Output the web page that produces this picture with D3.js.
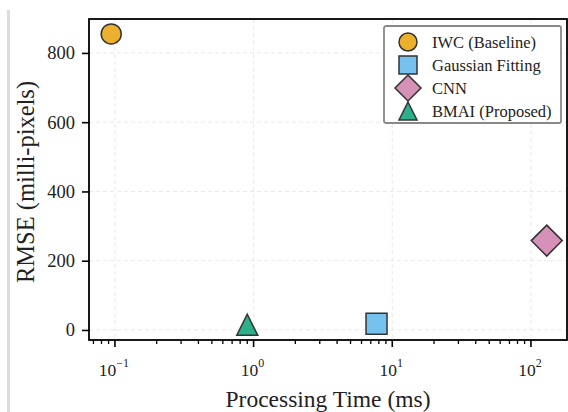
<!DOCTYPE html>
<html>
<head>
<meta charset="utf-8">
<script src="https://cdn.jsdelivr.net/npm/d3@7"></script>
<style>
  body { margin: 0; background: #fff; }
  svg { display: block; font-family: "Liberation Serif", "Times New Roman", serif; }
</style>
</head>
<body>
<svg id="chart" width="568" height="412"></svg>
<script>
// values
var methods = ["IWC (Baseline)", "Gaussian Fitting", "CNN", "BMAI (Proposed)"];
var times = [0.094, 7.7, 130, 0.9];        // ms
var rmse = [855, 18, 258, 15];             // milli-pixels
var colors = ["#E69F00", "#56B4E9", "#CC79A7", "#009E73"];
var shapes = ["circle", "square", "diamond", "triangle"];
var yTicks = [0, 200, 400, 600, 800];
var xTicks = [0.1, 1, 10, 100];
var xExp = ["\u22121", "0", "1", "2"];

var svg = d3.select("#chart");
var pl = 89, pr = 567, pt = 19, pb = 340;

var x = d3.scaleLog().domain([Math.pow(10, -1.187), Math.pow(10, 2.26)]).range([pl, pr]);
var y = d3.scaleLinear().domain([-29, 898]).range([pb, pt]);

// faint page border at left
svg.append("rect").attr("x", 7).attr("y", 10).attr("width", 3).attr("height", 402).attr("fill", "#dcdcdc");

// grid
svg.append("g").selectAll("line").data(xTicks).join("line")
    .attr("x1", d => x(d)).attr("x2", d => x(d)).attr("y1", pt).attr("y2", pb)
    .attr("stroke", "#e3e3e3").attr("stroke-width", 0.8).attr("stroke-dasharray", "4,3");
svg.append("g").selectAll("line").data(yTicks).join("line")
    .attr("x1", pl).attr("x2", pr).attr("y1", d => y(d)).attr("y2", d => y(d))
    .attr("stroke", "#e3e3e3").attr("stroke-width", 0.8).attr("stroke-dasharray", "4,3");

// y axis
var yAxis = svg.append("g").attr("transform", "translate(" + pl + ",0)")
    .call(d3.axisLeft(y).tickValues(yTicks).tickSize(7).tickPadding(7));
yAxis.select(".domain").remove();
yAxis.selectAll("line").attr("stroke", "#000").attr("stroke-width", 1.6);
yAxis.selectAll("text").attr("font-size", 18.5).attr("font-family", "Liberation Serif").attr("fill", "#222");

// x axis (major + minor ticks)
var minor = [];
for (var e = -2; e <= 2; e++) for (var m = 2; m <= 9; m++) {
  var v = m * Math.pow(10, e);
  if (v >= x.domain()[0] && v <= x.domain()[1]) minor.push(v);
}
var xg = svg.append("g").attr("transform", "translate(0," + pb + ")");
xg.selectAll(".minor").data(minor).join("line").attr("class", "minor")
    .attr("x1", d => x(d)).attr("x2", d => x(d)).attr("y1", 0).attr("y2", 4)
    .attr("stroke", "#000").attr("stroke-width", 1.3);
xg.selectAll(".major").data(xTicks).join("line").attr("class", "major")
    .attr("x1", d => x(d)).attr("x2", d => x(d)).attr("y1", 0).attr("y2", 7)
    .attr("stroke", "#000").attr("stroke-width", 1.6);
var xl = xg.selectAll(".lab").data(xTicks).join("text").attr("class", "lab")
    .attr("x", d => x(d) - 1).attr("y", 36).attr("text-anchor", "middle")
    .attr("font-size", 17.5).attr("fill", "#222");
xl.append("tspan").text("10");
xl.append("tspan").attr("dy", -9).attr("font-size", 12).text((d, i) => xExp[i]);

// spines
svg.append("rect").attr("x", pl).attr("y", pt).attr("width", pr - pl).attr("height", pb - pt)
    .attr("fill", "none").attr("stroke", "#000").attr("stroke-width", 1.8);

// axis labels
svg.append("text").attr("x", 328).attr("y", 407).attr("text-anchor", "middle")
    .attr("font-size", 23.5).attr("fill", "#222").text("Processing Time (ms)");
svg.append("text").attr("transform", "translate(34,182) rotate(-90)").attr("text-anchor", "middle")
    .attr("font-size", 24.5).attr("fill", "#222").text("RMSE (milli-pixels)");

// marker shapes in pixel size
function shapePath(kind, s) {
  var p = d3.path(), h = s / 2;
  if (kind === "circle") { p.moveTo(h, 0); p.arc(0, 0, h, 0, 2 * Math.PI); }
  else if (kind === "square") { p.rect(-h, -h, s, s); }
  else if (kind === "diamond") { p.moveTo(0, -h); p.lineTo(h, 0); p.lineTo(0, h); p.lineTo(-h, 0); p.closePath(); }
  else { p.moveTo(0, -h); p.lineTo(h, h); p.lineTo(-h, h); p.closePath(); }
  return p.toString();
}
var sizes = { circle: 20, square: 21, diamond: 31, triangle: 21 };

svg.append("g").selectAll("path").data(methods).join("path")
    .attr("transform", (d, i) => "translate(" + x(times[i]) + "," + y(rmse[i]) + ")")
    .attr("d", (d, i) => shapePath(shapes[i], sizes[shapes[i]]))
    .attr("fill", (d, i) => colors[i]).attr("fill-opacity", 0.82)
    .attr("stroke", "#333").attr("stroke-width", 1.5);

// legend
var lg = svg.append("g").attr("transform", "translate(384,26)");
lg.append("rect").attr("width", 177).attr("height", 97).attr("rx", 2)
    .attr("fill", "#fff").attr("stroke", "#888").attr("stroke-width", 1.8);
var items = lg.selectAll(".item").data(methods).join("g").attr("class", "item")
    .attr("transform", (d, i) => "translate(0," + (16 + i * 23) + ")");
items.append("path").attr("transform", "translate(24,0)")
    .attr("d", (d, i) => shapePath(shapes[i], shapes[i] === "diamond" ? 26 : 18))
    .attr("fill", (d, i) => colors[i]).attr("fill-opacity", 0.82)
    .attr("stroke", "#333").attr("stroke-width", 1.5);
items.append("text").attr("x", 48).attr("y", 5.5).attr("font-size", 16.5).attr("fill", "#222").text(d => d);
</script>
</body>
</html>
